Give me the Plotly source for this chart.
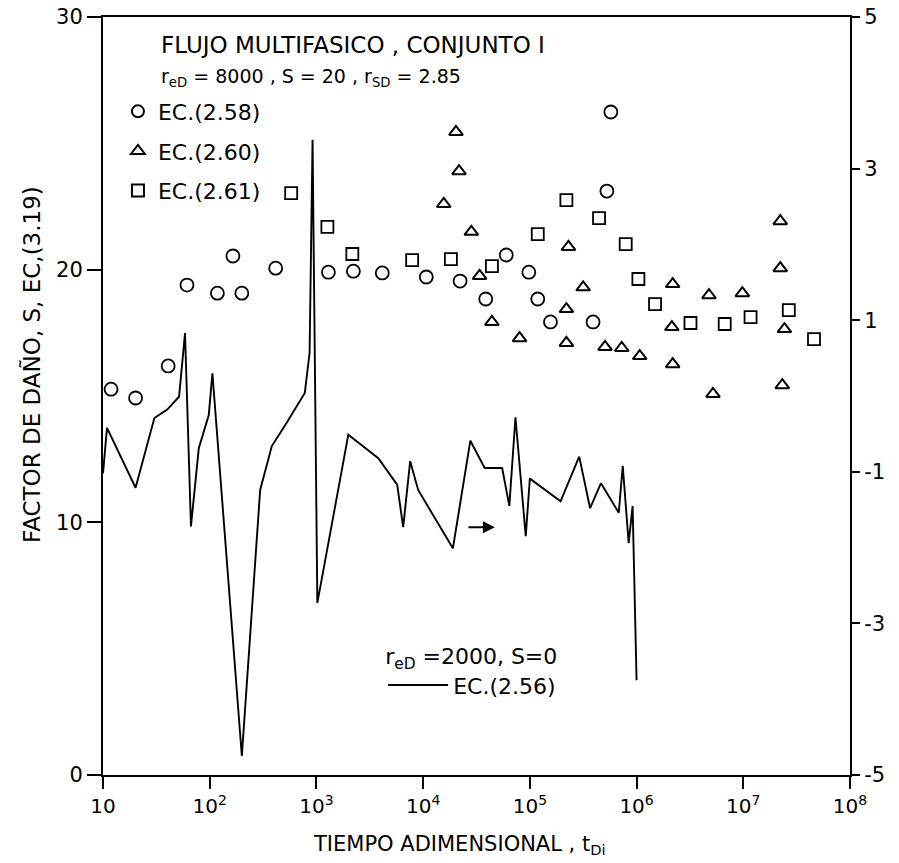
import plotly.graph_objects as go

# EC.(2.58) - circles
t_258 = [11.9, 20.2, 40.8, 61.2, 118, 165, 200, 415, 1295, 2220, 4140, 10700, 22200,
         38600, 60100, 97800, 118600, 156000, 391000, 527000, 574000]
s_258 = [15.27, 14.92, 16.19, 19.39, 19.07, 20.54, 19.07, 20.06, 19.9, 19.94, 19.87, 19.71,
         19.55, 18.84, 20.58, 19.9, 18.84, 17.93, 17.93, 23.11, 26.24]

# EC.(2.60) - triangles
t_260 = [15600, 20300, 21700, 28300, 33800, 44100, 80100, 220000, 220000, 230000, 316000,
         506000, 726000, 1.07e6, 2.14e6, 2.18e6, 2.18e6, 4.77e6, 5.2e6, 9.8e6, 2.22e7,
         2.22e7, 2.32e7, 2.43e7]
s_260 = [22.6, 25.45, 23.9, 21.5, 19.75, 17.93, 17.29, 18.44, 17.1, 20.9, 19.3,
         16.94, 16.9, 16.58, 17.73, 19.43, 16.26, 18.99, 15.08, 19.07, 21.92,
         20.06, 15.43, 17.65]

# EC.(2.61) - squares
t_261 = [580, 1267, 2170, 7890, 18200, 44100, 118600, 220000, 445000, 791000, 1.04e6,
         1.49e6, 3.2e6, 6.7e6, 1.17e7, 2.67e7, 4.6e7]
s_261 = [23.03, 21.69, 20.62, 20.38, 20.42, 20.14, 21.41, 22.75, 22.04, 21.01, 19.63,
         18.64, 17.89, 17.85, 18.12, 18.4, 17.25]

# EC.(2.56) - line, right-hand axis
t_256 = [10.0, 10.9, 20.2, 30.3, 40, 51.6, 58.7, 66.7, 79, 98, 106, 200, 297, 382, 523, 778,
         863, 920, 1020, 1990, 3800, 5710, 6500, 7560, 8980, 19000, 27700, 37700, 55000,
         64200, 73300, 91500, 100000, 194000, 290000, 367000, 464000, 681000, 742000,
         843000, 918000, 1.0e6]
s_256 = [-1.02, -0.42, -1.21, -0.29, -0.18, -0.01, 0.83, -1.72, -0.69, -0.25, 0.30, -4.75,
         -1.24, -0.66, -0.36, 0.04, 0.57, 3.38, -2.73, -0.51, -0.82, -1.17, -1.73, -0.86,
         -1.24, -2.01, -0.59, -0.95, -0.95, -1.45, -0.28, -1.85, -1.09, -1.39, -0.80,
         -1.48, -1.15, -1.54, -0.92, -1.94, -1.45, -3.75]

x_tickvals = [10, 1e2, 1e3, 1e4, 1e5, 1e6, 1e7, 1e8]
x_ticktext = ["10", "10<sup>2</sup>", "10<sup>3</sup>", "10<sup>4</sup>", "10<sup>5</sup>",
              "10<sup>6</sup>", "10<sup>7</sup>", "10<sup>8</sup>"]
y_tickvals = [0, 10, 20, 30]
y2_tickvals = [5, 3, 1, -1, -3, -5]
y2_ticktext = ["5", "3", "1", "-1", "-3", "-5"]

FONT = "DejaVu Sans"
BLACK = "black"

fig = go.Figure()

fig.add_trace(go.Scatter(x=t_258, y=s_258, mode="markers", name="EC.(2.58)",
                         marker=dict(symbol="circle-open", size=13, color=BLACK,
                                     line=dict(width=1.8)),
                         legendgroup="a", legend="legend"))
fig.add_trace(go.Scatter(x=t_260, y=s_260, mode="markers", name="EC.(2.60)",
                         marker=dict(symbol="triangle-up-open", size=12, color=BLACK,
                                     line=dict(width=2)),
                         legendgroup="b", legend="legend"))
fig.add_trace(go.Scatter(x=t_261, y=s_261, mode="markers", name="EC.(2.61)",
                         marker=dict(symbol="square-open", size=12, color=BLACK,
                                     line=dict(width=1.8)),
                         legendgroup="c", legend="legend"))
fig.add_trace(go.Scatter(x=t_256, y=s_256, mode="lines", name="EC.(2.56)",
                         line=dict(color=BLACK, width=1.9), yaxis="y2",
                         legend="legend2"))

axis_common = dict(showline=True, linecolor=BLACK, linewidth=2,
                   ticks="outside", tickwidth=2, tickcolor=BLACK,
                   showgrid=False, zeroline=False, automargin=False,
                   ticklabeloverflow="allow")

fig.update_layout(
    width=899, height=863,
    margin=dict(l=103, r=49, t=17, b=88),
    paper_bgcolor="white", plot_bgcolor="white",
    font=dict(family=FONT, size=20, color=BLACK),
    xaxis=dict(axis_common, type="log", range=[1, 8], tickvals=x_tickvals,
               ticktext=x_ticktext, mirror=True, ticklen=12,
               tickfont=dict(size=20)),
    yaxis=dict(axis_common, range=[0, 30], tickvals=y_tickvals, ticklen=14,
               tickfont=dict(size=21)),
    yaxis2=dict(axis_common, range=[-5, 5], tickvals=y2_tickvals, ticktext=y2_ticktext,
                overlaying="y", side="right", ticklen=8, tickfont=dict(size=21)),
    legend=dict(x=0.02, y=0.903, xanchor="left", yanchor="top",
                bgcolor="rgba(0,0,0,0)", font=dict(size=22),
                tracegroupgap=8, itemsizing="constant"),
    legend2=dict(x=0.375, y=0.184, xanchor="left", yanchor="top",
                 bgcolor="rgba(0,0,0,0)", font=dict(size=22), itemwidth=60,
                 title=dict(text="r<sub>eD</sub> =2000, S=0", font=dict(size=22))),
    showlegend=True,
)

fig.add_annotation(text="FLUJO MULTIFASICO , CONJUNTO I", xref="paper", yref="paper",
                   x=0.075, y=0.963, xanchor="left", yanchor="middle", showarrow=False,
                   font=dict(size=23))
fig.add_annotation(text="r<sub>eD</sub> = 8000 , S = 20 , r<sub>SD</sub> = 2.85",
                   xref="paper", yref="paper", x=0.075, y=0.92, xanchor="left",
                   yanchor="middle", showarrow=False, font=dict(size=19))
fig.add_annotation(text="FACTOR DE DAÑO, S, EC,(3.19)", xref="paper", yref="paper",
                   x=-0.095, y=0.541, xanchor="center", yanchor="middle",
                   textangle=-90, showarrow=False, font=dict(size=23))
fig.add_annotation(text="TIEMPO ADIMENSIONAL , t<sub>Di</sub>", xref="paper",
                   yref="paper", x=0.4766, y=-0.0923, xanchor="center",
                   yanchor="middle", showarrow=False, font=dict(size=21))
fig.add_annotation(x=4.673, y=9.81, xref="x", yref="y", ax=-28, ay=0, text="",
                   showarrow=True, arrowhead=2, arrowsize=1.2, arrowwidth=2,
                   arrowcolor=BLACK)

fig.write_html("out.html", config={"displayModeBar": False},
               post_script="document.body.style.margin='0';"
                           "document.body.style.overflow='hidden';")
